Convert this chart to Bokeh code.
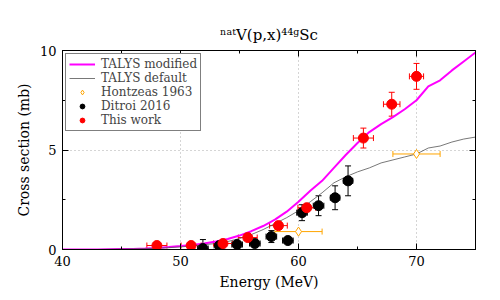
from bokeh.plotting import figure
from bokeh.models import (ColumnDataSource, Whisker, TeeHead, FixedTicker, LinearAxis,
                          Legend, LegendItem, Range1d)
from bokeh.embed import file_html
from bokeh.resources import INLINE

# ---- data ----
talys_e = [40, 41, 42, 43, 44, 45, 46, 47, 48, 49, 50, 51, 52, 53, 54, 55, 56, 57, 58,
           59, 60, 61, 62, 63, 64, 65, 66, 67, 68, 69, 70, 71, 72, 73, 74, 75]
talys_mod = [0, 0, 0, 0, 0.01, 0.02, 0.03, 0.05, 0.08, 0.12, 0.17, 0.23, 0.3, 0.4, 0.53,
             0.7, 0.92, 1.18, 1.5, 1.9, 2.4, 2.95, 3.45, 4.1, 4.75, 5.35, 5.9, 6.3, 6.65,
             7.05, 7.5, 8.2, 8.5, 9.0, 9.45, 9.9]
talys_def = [0, 0, 0, 0, 0.01, 0.02, 0.03, 0.04, 0.06, 0.09, 0.13, 0.18, 0.24, 0.3, 0.4,
             0.55, 0.75, 1.0, 1.3, 1.6, 1.95, 2.4, 2.85, 3.35, 3.65, 3.9, 4.1, 4.35, 4.5,
             4.65, 4.8, 5.1, 5.2, 5.4, 5.55, 5.65]

hon_e = [60.0, 70.0]
hon_y = [0.9, 4.8]
hon_ex = [2.0, 2.0]
hon_ey = [0.0, 0.0]

dit_e = [51.9, 53.3, 54.8, 56.3, 57.7, 59.1, 60.3, 61.7, 63.1, 64.2]
dit_y = [0.05, 0.2, 0.25, 0.3, 0.65, 0.45, 1.85, 2.2, 2.6, 3.45]
dit_ex = [0.45, 0.45, 0.45, 0.45, 0.45, 0.45, 0.45, 0.45, 0.4, 0.4]
dit_ey = [0.45, 0.15, 0.15, 0.2, 0.3, 0.1, 0.4, 0.5, 0.6, 0.75]

tw_e = [48.0, 50.9, 53.6, 55.7, 58.3, 60.7, 65.5, 67.9, 70.0]
tw_y = [0.2, 0.2, 0.3, 0.6, 1.2, 2.1, 5.6, 7.3, 8.7]
tw_ex = [0.85, 0.85, 0.8, 0.8, 0.75, 0.75, 0.85, 0.7, 0.6]
tw_ey = [0.05, 0.05, 0.05, 0.1, 0.1, 0.15, 0.5, 0.6, 0.65]

x_ticks = [40, 50, 60, 70]
x_minor = [45, 55, 65, 75]
y_ticks = [0, 5, 10]
y_minor = [2.5, 7.5]

TITLE = "\u207f\u1d43\u1d57V(p,x)\u2074\u2074\u1d4dSc"
FONT = "'DejaVu Serif'"

p = figure(width=492, height=292, output_backend="svg", toolbar_location=None,
           x_range=Range1d(40, 75), y_range=Range1d(0, 10),
           min_border_left=62, min_border_right=17, min_border_top=50, min_border_bottom=40)
p.outline_line_color = "black"
p.outline_line_width = 1
p.background_fill_color = "white"
p.border_fill_color = "white"

p.title.text = TITLE
p.title.align = "center"
p.title.text_font = FONT
p.title.text_font_size = "15px"
p.title.text_font_style = "normal"
p.title.text_color = "black"
p.title.standoff = 14

for ax in list(p.xaxis) + list(p.yaxis):
    ax.major_tick_in = 6
    ax.major_tick_out = 0
    ax.minor_tick_in = 3
    ax.minor_tick_out = 0
    ax.axis_line_color = "black"
    ax.major_tick_line_color = "black"
    ax.minor_tick_line_color = "black"
    ax.major_label_text_font = FONT
    ax.major_label_text_font_size = "13px"
    ax.major_label_text_font_style = "normal"
    ax.major_label_text_color = "black"
    ax.axis_label_text_font = FONT
    ax.axis_label_text_font_size = "14px"
    ax.axis_label_text_font_style = "normal"
    ax.axis_label_text_color = "black"
p.xaxis.ticker = FixedTicker(ticks=x_ticks, minor_ticks=x_minor)
p.yaxis.ticker = FixedTicker(ticks=y_ticks, minor_ticks=y_minor)
p.xaxis.axis_label = "Energy (MeV)"
p.yaxis.axis_label = "Cross section (mb)"
p.xaxis.major_label_standoff = 6
p.yaxis.major_label_standoff = 6

for loc, ticks, minor in (("above", x_ticks, x_minor), ("right", y_ticks, y_minor)):
    a = LinearAxis(ticker=FixedTicker(ticks=ticks, minor_ticks=minor),
                   major_label_overrides={t: "" for t in ticks},
                   major_tick_in=6, major_tick_out=0, minor_tick_in=3, minor_tick_out=0,
                   axis_line_color="black", major_tick_line_color="black",
                   minor_tick_line_color="black", major_label_standoff=0)
    p.add_layout(a, loc)

p.xgrid.ticker = FixedTicker(ticks=[50, 60, 70])
p.ygrid.ticker = FixedTicker(ticks=[5])
for g in (p.xgrid, p.ygrid):
    g.grid_line_color = "#aaaaaa"
    g.grid_line_dash = "1 3"
    g.grid_line_width = 1

r_mod = p.line(talys_e, talys_mod, line_color="#ff00ff", line_width=2)
r_def = p.line(talys_e, talys_def, line_color="#555555", line_width=0.8)


def errbars(e, y, ex, ey, color, yerr=True):
    src = ColumnDataSource(dict(
        x=e, y=y,
        xl=[a - b for a, b in zip(e, ex)], xu=[a + b for a, b in zip(e, ex)],
        yl=[a - b for a, b in zip(y, ey)], yu=[a + b for a, b in zip(y, ey)]))
    p.add_layout(Whisker(source=src, base="y", lower="xl", upper="xu", dimension="width",
                         line_color=color, line_width=1,
                         upper_head=TeeHead(size=6, line_color=color),
                         lower_head=TeeHead(size=6, line_color=color)))
    if yerr:
        p.add_layout(Whisker(source=src, base="x", lower="yl", upper="yu", dimension="height",
                             line_color=color, line_width=1,
                             upper_head=TeeHead(size=6, line_color=color),
                             lower_head=TeeHead(size=6, line_color=color)))
    return src


s_h = errbars(hon_e, hon_y, hon_ex, hon_ey, "orange", yerr=False)
r_h = p.scatter("x", "y", source=s_h, marker="diamond", size=9, fill_color="white",
                line_color="orange", line_width=1)
s_d = errbars(dit_e, dit_y, dit_ex, dit_ey, "black")
r_d = p.scatter("x", "y", source=s_d, marker="circle", size=10, fill_color="black",
                line_color="black")
s_t = errbars(tw_e, tw_y, tw_ex, tw_ey, "red")
r_t = p.scatter("x", "y", source=s_t, marker="circle", size=10, fill_color="red",
                line_color="red")

legend = Legend(items=[
    LegendItem(label="TALYS modified", renderers=[r_mod]),
    LegendItem(label="TALYS default", renderers=[r_def]),
    LegendItem(label="Hontzeas 1963", renderers=[r_h]),
    LegendItem(label="Ditroi 2016", renderers=[r_d]),
    LegendItem(label="This work", renderers=[r_t]),
], location="top_left")
legend.label_text_font = FONT
legend.label_text_font_size = "12px"
legend.label_text_line_height = 1.0
legend.label_height = 12
legend.glyph_height = 12
legend.glyph_width = 26
legend.spacing = 0
legend.padding = 3
legend.margin = 3
legend.border_line_color = "black"
legend.border_line_width = 1
legend.background_fill_alpha = 1
legend.label_standoff = 6
p.add_layout(legend, "center")

open("out.html", "w").write(file_html(p, INLINE))
